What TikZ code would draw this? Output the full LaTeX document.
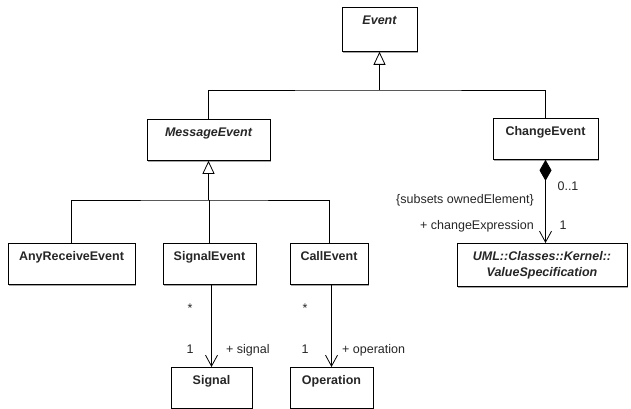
\documentclass[tikz,border=0pt]{standalone}
\usepackage{fontspec}
\setmainfont{Liberation Sans}
\usetikzlibrary{arrows.meta,shadows}
\begin{document}
\begin{tikzpicture}[x=1pt,y=-1pt,
  every node/.style={font=\fontsize{12.5}{15}\selectfont, text=black!85},
  umlbox/.style={draw, fill=white, line width=0.8pt, anchor=north, inner xsep=0pt, inner ysep=0pt,
    text height=17.5pt, text depth=23.5pt, font=\fontsize{12.5}{15}\selectfont\bfseries,
    drop shadow={shadow xshift=1.3pt, shadow yshift=-1.3pt, opacity=0.35, fill=black}},
  abstract/.style={font=\fontsize{12.5}{15}\selectfont\bfseries\itshape},
  lbl/.style={inner sep=0pt, anchor=base},
  conn/.style={line width=0.8pt},
  gen/.style={conn, -{Triangle[open, length=13pt, width=12pt, fill=white]}},
  assoc/.style={conn, -{Straight Barb[length=11pt, width=12pt]}},
  comp/.style={conn, {Diamond[length=21pt, width=12pt]}-{Straight Barb[length=11pt, width=12pt]}}
]
\useasboundingbox[fill=white] (0,0) rectangle (631,409);

% classes
\node[umlbox, abstract, minimum width=75pt, text depth=26.5pt] (ev) at (379.5,7) {Event};
\node[umlbox, abstract, minimum width=123pt] (me) at (208.5,119) {MessageEvent};
\node[umlbox, minimum width=105pt] (chg) at (545.5,118) {ChangeEvent};
\node[umlbox, minimum width=127pt] (are) at (71.5,243) {AnyReceiveEvent};
\node[umlbox, minimum width=93pt] (se) at (209.5,243) {SignalEvent};
\node[umlbox, minimum width=78pt] (ce) at (329,243) {CallEvent};
\node[umlbox, minimum width=81pt] (sig) at (211.5,367) {Signal};
\node[umlbox, minimum width=83pt] (op) at (331.5,367) {Operation};
\node[umlbox, abstract, minimum width=170pt, minimum height=43pt, text height=, text depth=,
  inner ysep=0pt, align=center] (vs) at (542,243)
  {UML::Classes::Kernel::\\[1pt]ValueSpecification};

% generalizations
\coordinate (j1) at (ev.south |- 0,90);
\coordinate (j2) at (me.south |- 0,200);
\draw[conn] (me.north) |- (j1) -| (chg.north);
\draw[gen] (j1) -- (ev.south);
\draw[conn] (are.north) |- (j2) -| (ce.north);
\draw[conn] (se.north) -- (se.north |- j2);
\draw[gen] (j2) -- (me.south);

% associations
\draw[assoc] (sig.north |- se.south) -- (sig.north);
\draw[assoc] (op.north |- ce.south) -- (op.north);
\draw[comp] (chg.south) -- (chg.south |- vs.north);

% labels
\node[lbl] (m01) at (568,190.5) {0..1};
\node[lbl, anchor=base east] (sub) at (534,203.5) {\{subsets ownedElement\}};
\node[lbl, anchor=base east] (rce) at (534,229.5) {+ changeExpression};
\node[lbl] (m1c) at (563,229.5) {1};
\node[lbl] (sst) at (190,312) {*};
\node[lbl] (s1) at (190,353.5) {1};
\node[lbl, anchor=base west] (rs) at (226,353.5) {+ signal};
\node[lbl] (ost) at (305,312) {*};
\node[lbl] (o1) at (305,353.5) {1};
\node[lbl, anchor=base west] (ro) at (342,353.5) {+ operation};
\end{tikzpicture}
\end{document}
